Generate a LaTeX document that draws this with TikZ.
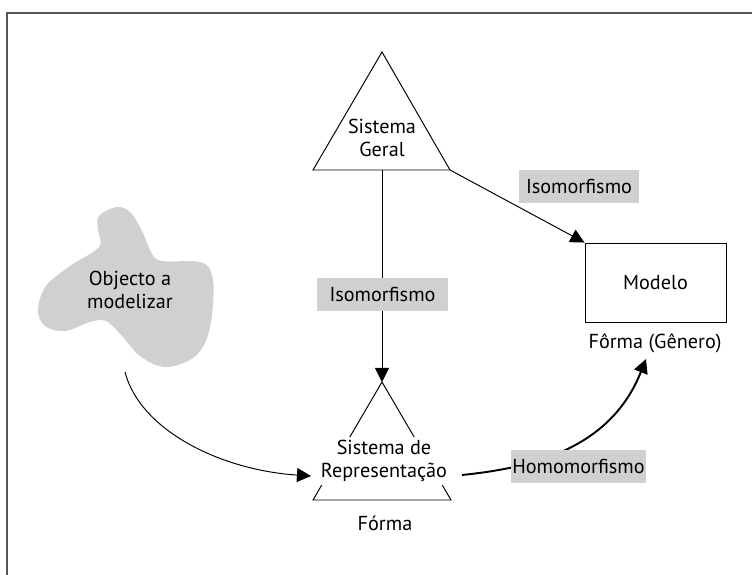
\documentclass[tikz,border=0pt]{standalone}
\usepackage{fontspec}
\setmainfont{PT Sans}
\usetikzlibrary{arrows.meta}
\definecolor{blobgray}{HTML}{D2CFCF}
\definecolor{boxgray}{HTML}{D2CFCF}
\definecolor{framegray}{HTML}{555555}

\begin{document}
\begin{tikzpicture}[x=0.02cm,y=-0.02cm,line width=0.55pt,>={Triangle[length=8pt,width=8pt]},
  txt/.style={align=center,font=\fontsize{11.5}{13.5}\selectfont,inner sep=1pt},
  lbl/.style={txt,fill=boxgray,minimum height=0.66cm}]
  \useasboundingbox (0,0) rectangle (752,575);
  \clip (0,0) rectangle (752,575);
  % frame, cut by the page at right and bottom
  \draw[framegray,line width=1.2pt] (7,13) rectangle (800,640);
  % object to model
  \fill[blobgray] plot[smooth cycle,tension=0.6] coordinates {
    (117,207) (131,213) (143,233) (151,252) (162,261) (200,262) (212,275)
    (213,305) (207,338) (193,358) (165,367) (140,356) (122,336) (106,321)
    (90,322) (65,331) (45,326) (38,310) (46,286) (70,266) (99,247)
    (98,230) (99,216)};
  \node[txt] (obj) at (130,290) {Objecto a\\modelizar};
  \coordinate (objout) at (125,372);
  % general system
  \coordinate (gtop) at (382,52);
  \coordinate (gleft) at (313,170);
  \coordinate (gright) at (450,170);
  \coordinate (gbase) at (382,170);
  \draw (gleft) -- (gtop) -- (gright) -- cycle;
  \node[txt] (geral) at (382,138) {Sistema\\Geral};
  % representation system
  \coordinate (rtop) at (382,382);
  \coordinate (rleft) at (313,500);
  \coordinate (rright) at (451,500);
  \draw (rleft) -- (rtop) -- (rright) -- cycle;
  \node[txt,fill=white,minimum height=0.96cm] (repr) at (384,461) {Sistema de\\Representação};
  \coordinate (reprin) at (311,476);
  \coordinate (reprout) at (462,475);
  \node[txt] (forma) at (385,523) {Fórma};
  % model
  \node[draw,txt,minimum width=2.82cm,minimum height=1.58cm] (modelo) at (655.5,282.5) {Modelo};
  \node[txt] (genero) at (655,343) {Fôrma (Gênero)};
  \coordinate (homoin) at (646,359);
  % connectors
  \draw[->] (gbase) -- (rtop);
  \draw[->] (gright) -- (modelo.north west);
  \draw[->] (objout) .. controls (140,430) and (220,470) .. (reprin);
  \draw[->,line width=1.1pt] (reprout) .. controls (530,468) and (610,450) .. (homoin);
  % labels
  \node[lbl,minimum width=2.62cm] (iso1) at (382.5,294.5) {Isomorfismo};
  \node[lbl,minimum width=2.4cm] (iso2) at (579,186.5) {Isomorfismo};
  \node[lbl,minimum width=2.42cm] (homo) at (578.5,466.5) {Homomorfismo};
\end{tikzpicture}
\end{document}
